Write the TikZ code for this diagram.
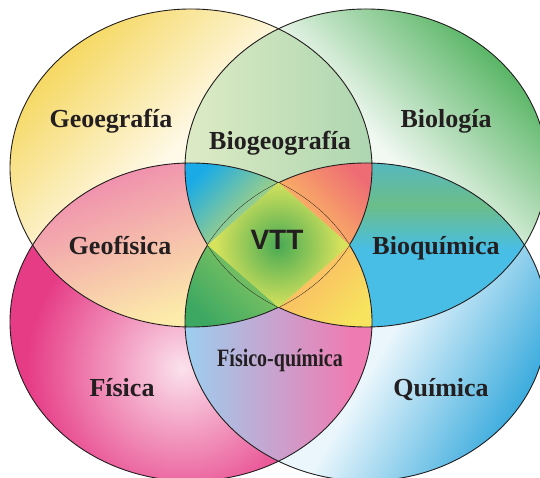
\documentclass[tikz,border=0pt]{standalone}
\usepackage{fontspec}
\setmainfont{Liberation Serif}
\newfontfamily\vttfont{Liberation Sans}
\newfontfamily\narrowfont[FakeStretch=0.8]{Liberation Serif}

\definecolor{ink}{HTML}{231F20}
\definecolor{geodark}{HTML}{F4D24A}
\definecolor{geolight}{HTML}{FEF9E8}
\definecolor{biodark}{HTML}{3CA84B}
\definecolor{biolight}{HTML}{F2F9F2}
\definecolor{fisdark}{HTML}{E63C86}
\definecolor{fislight}{HTML}{FBE2EC}
\definecolor{quidark}{HTML}{1C9ED8}
\definecolor{quilight}{HTML}{EAF6FC}
\definecolor{vttmid}{HTML}{48AA54}
\definecolor{vttrim}{HTML}{D8E35C}
\definecolor{bqteal}{HTML}{56B8C0}
\definecolor{bqgreen}{HTML}{6BBD88}
\definecolor{bqblue}{HTML}{48BEE6}
\definecolor{fqblue}{HTML}{9CCFEF}
\definecolor{fqpink}{HTML}{EE7CB2}

% the four fields
\newcommand{\geoarea}{(191,310) ellipse [x radius=181pt, y radius=159pt]}
\newcommand{\bioarea}{(366,310) ellipse [x radius=181pt, y radius=159pt]}
\newcommand{\fisarea}{(191,156) ellipse [x radius=181pt, y radius=159pt]}
\newcommand{\quiarea}{(366,156) ellipse [x radius=181pt, y radius=159pt]}

\tikzset{
  rim/.style={draw=ink, line width=0.9pt},
  field/.style={font=\bfseries\fontsize{26}{30}\selectfont, text=ink, anchor=base, inner sep=0pt},
  bridge/.style={font=\narrowfont\bfseries\fontsize{25}{29}\selectfont, text=ink, anchor=base, inner sep=0pt},
  core/.style={font=\vttfont\bfseries\fontsize{28}{32}\selectfont, text=ink, anchor=base, inner sep=0pt},
  geoshade/.style={top color=geodark, bottom color=geolight, middle color=geolight, shading angle=45},
  bioshade/.style={top color=biodark, bottom color=biolight, middle color=biolight, shading angle=-45},
  fisshade/.style={inner color=fislight, outer color=fisdark},
  quishade/.style={top color=quidark, bottom color=quilight, middle color=quilight, shading angle=-120},
  ulshade/.style={top color={rgb,255:red,26;green,171;blue,230}, bottom color={rgb,255:red,212;green,223;blue,96}, shading angle=45},
  urshade/.style={top color={rgb,255:red,238;green,108;blue,116}, bottom color={rgb,255:red,253;green,200;blue,96}, shading angle=-45},
  llshade/.style={top color={rgb,255:red,140;green,200;blue,98}, bottom color={rgb,255:red,60;green,168;blue,98}, shading angle=-45},
  lrshade/.style={top color={rgb,255:red,251;green,178;blue,102}, bottom color={rgb,255:red,247;green,227;blue,94}, shading angle=45}
}

\begin{document}
\begin{tikzpicture}[x=1pt,y=1pt]
  \useasboundingbox (0,0) rectangle (540,478);
  \fill[white] (0,0) rectangle (540,478);
  \coordinate (vl) at (207.6,233);
  \coordinate (vt) at (278.5,295.2);
  \coordinate (vr) at (349.4,233);
  \coordinate (vb) at (278.5,170.8);
  % single fields
  \begin{scope}
    \clip \geoarea;
    \fill[geodark] \geoarea;
    \shade[geoshade] (183,335) +(-175,-175) rectangle +(175,175);
  \end{scope}
  \begin{scope}
    \clip \bioarea;
    \fill[biodark] \bioarea;
    \shade[bioshade] (380,331) +(-175,-175) rectangle +(175,175);
  \end{scope}
  \begin{scope}
    \clip \fisarea;
    \fill[fisdark] \fisarea;
    \shade[fisshade] (182,110) circle (155pt);
  \end{scope}
  \begin{scope}
    \clip \quiarea;
    \fill[quidark] \quiarea;
    \shade[quishade] (385,133) +(-175,-175) rectangle +(175,175);
  \end{scope}
  % two fields
  \begin{scope}
    \clip \geoarea; \clip \bioarea;
    \shade[left color={rgb,255:red,221;green,235;blue,197}, right color={rgb,255:red,173;green,214;blue,176}] (185,290) rectangle (372,449);
  \end{scope}
  \begin{scope}
    \clip \geoarea; \clip \fisarea;
    \shade[top color={rgb,255:red,238;green,134;blue,174}, bottom color={rgb,255:red,252;green,235;blue,170}, shading angle=20] (32,151) rectangle (210,316);
  \end{scope}
  \begin{scope}
    \clip \bioarea; \clip \quiarea;
    \fill[bqblue] (349,151) rectangle (525,316);
    \shade[top color=bqgreen, bottom color=bqblue] (349,228) rectangle (525,273);
    \shade[top color=bqteal, bottom color=bqgreen] (349,273) rectangle (525,316);
  \end{scope}
  \begin{scope}
    \clip \fisarea; \clip \quiarea;
    \fill[fqpink] (185,18) rectangle (372,171);
    \shade[left color=fqblue, right color=fqpink] (185,18) rectangle (350,171);
  \end{scope}
  % three fields
  \begin{scope}
    \clip \geoarea; \clip \bioarea; \clip \fisarea;
    \shade[ulshade] (185,233) rectangle (278.5,316);
  \end{scope}
  \begin{scope}
    \clip \geoarea; \clip \bioarea; \clip \quiarea;
    \shade[urshade] (278.5,233) rectangle (372,316);
  \end{scope}
  \begin{scope}
    \clip \geoarea; \clip \fisarea; \clip \quiarea;
    \shade[llshade] (185,151) rectangle (278.5,233);
  \end{scope}
  \begin{scope}
    \clip \bioarea; \clip \fisarea; \clip \quiarea;
    \shade[lrshade] (278.5,151) rectangle (372,233);
  \end{scope}
  % rims
  \draw[rim] \geoarea;
  \draw[rim] \bioarea;
  \draw[rim] \fisarea;
  \draw[rim] \quiarea;
  % centre, all four
  \begin{scope}
    \clip \geoarea; \clip \bioarea; \clip \fisarea; \clip \quiarea;
    \shade[ulshade] (185,233) rectangle (278.5,316);
    \shade[urshade] (278.5,233) rectangle (372,316);
    \shade[llshade] (185,151) rectangle (278.5,233);
    \shade[lrshade] (278.5,151) rectangle (372,233);
    \fill[vttrim] (vl) -- (vt) -- (vr) -- (vb) -- cycle;
    \clip (vl) -- (vt) -- (vr) -- (vb) -- cycle;
    \shade[inner color=vttmid, outer color=vttrim] (278.5,233) circle (64pt);
  \end{scope}
  % names
  \node[field] (geo) at (111,350) {Geoegrafía};
  \node[field] (bio) at (446,350) {Biología};
  \node[field] (biogeo) at (280,328) {Biogeografía};
  \node[field] (geofis) at (120,223) {Geofísica};
  \node[core] (vtt) at (277,228) {VTT};
  \node[field] (bioqui) at (436,223) {Bioquímica};
  \node[bridge] (fisqui) at (280,111) {Físico-química};
  \node[field] (fis) at (122,81) {Física};
  \node[field] (qui) at (441,81) {Química};
\end{tikzpicture}
\end{document}
